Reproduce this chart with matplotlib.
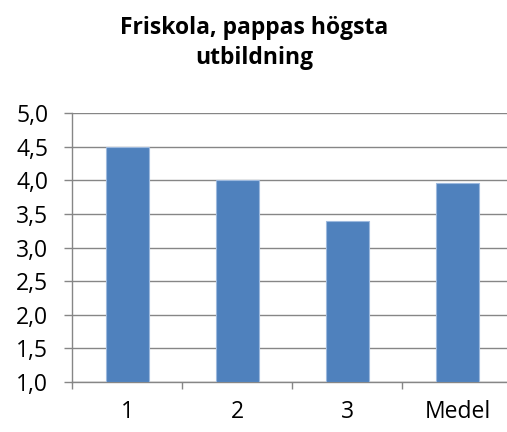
import matplotlib.pyplot as plt
from matplotlib.ticker import FuncFormatter

plt.rcParams['font.family'] = ['Open Sans', 'DejaVu Sans']

categories = ["1", "2", "3", "Medel"]
values = [4.5, 4.0, 3.4, 3.96]
yticks = [1.0, 1.5, 2.0, 2.5, 3.0, 3.5, 4.0, 4.5, 5.0]
title = "Friskola, pappas högsta\nutbildning"

fig = plt.figure(figsize=(5.07, 4.32), dpi=100)
ax = fig.add_axes([72 / 507, 1 - 382 / 432, 435 / 507, 269 / 432])

x = range(len(categories))
ax.bar(x, [v - 1.0 for v in values], bottom=1.0, width=0.39,
       color='#4F81BD', edgecolor='#9DB9DE', linewidth=0.8, zorder=3)

ax.set_ylim(1.0, 5.0)
ax.set_xlim(-0.5, 3.45)
ax.set_yticks(yticks)
ax.yaxis.set_major_formatter(FuncFormatter(lambda v, p: f"{v:.1f}".replace('.', ',')))
ax.grid(axis='y', color='#868686', linewidth=1.0, zorder=0)

ax.set_xticks(list(x))
ax.set_xticklabels(categories)
ax.set_xticks([-0.5, 0.5, 1.5, 2.5], minor=True)
ax.tick_params(axis='x', which='major', length=0, pad=13, labelsize=16.5)
ax.tick_params(axis='x', which='minor', length=5, color='#868686', width=1)
ax.tick_params(axis='y', length=6, color='#868686', width=1, pad=11, labelsize=16.5)

for side in ['top', 'right']:
    ax.spines[side].set_visible(False)
for side in ['left', 'bottom']:
    ax.spines[side].set_color('#868686')
    ax.spines[side].set_linewidth(1.0)

fig.text(254 / 507, 1 - 43 / 432, title, ha='center', va='center',
         fontsize=16.5, fontweight='bold', linespacing=1.38)

fig.savefig('out.png', dpi=100)
